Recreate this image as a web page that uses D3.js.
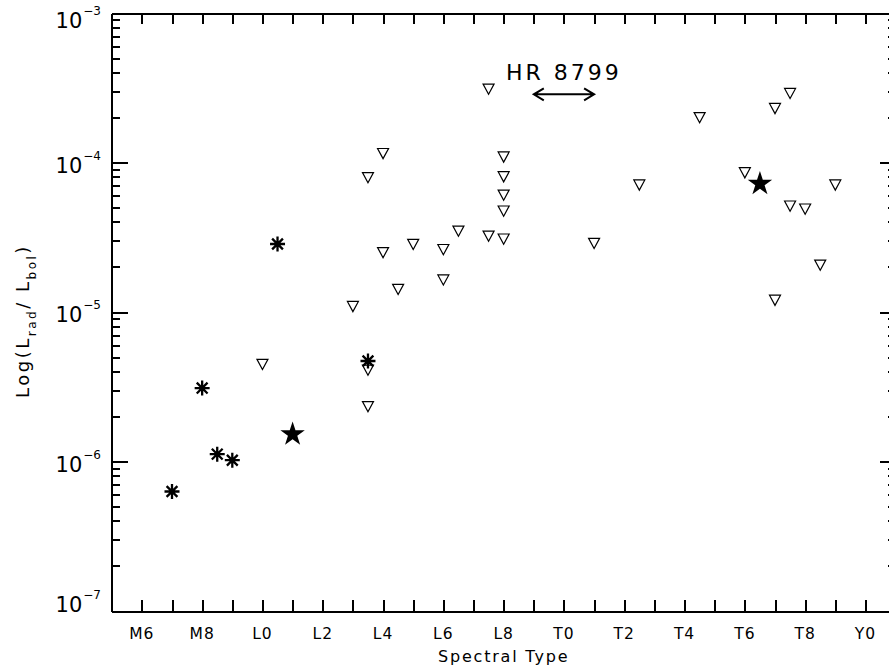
<!DOCTYPE html>
<html>
<head>
<meta charset="utf-8">
<script src="https://cdn.jsdelivr.net/npm/d3@7"></script>
<style>
  body { margin: 0; background: #fff; }
  svg text { font-family: "DejaVu Sans", sans-serif; fill: #000; }
  .axis path, .axis line { stroke: #000; stroke-width: 2px; shape-rendering: crispEdges; }
</style>
</head>
<body>
<div id="chart"></div>
<script>
// spectral type as a number: M0 = 0, L0 = 10, T0 = 20, Y0 = 30
const tickTypes = [6, 8, 10, 12, 14, 16, 18, 20, 22, 24, 26, 28, 30]
const tickNames = ['M6', 'M8', 'L0', 'L2', 'L4', 'L6', 'L8', 'T0', 'T2', 'T4', 'T6', 'T8', 'Y0']
const yDecades = [-7, -6, -5, -4, -3]

// upper limits (open triangles)
const limitTypes = [10, 17.5, 14, 13.5, 18, 18, 18, 18, 18, 17.5, 16.5, 15, 16, 14, 16,
    14.5, 13, 13.5, 13.5, 27.5, 27, 24.5, 26, 29, 22.5, 27.5, 28, 21, 28.5, 27]
const limitValues = [4.47e-6, 3.1e-4, 1.15e-4, 7.94e-5, 1.09e-4, 8.04e-5, 6.06e-5, 4.74e-5,
    3.08e-5, 3.22e-5, 3.48e-5, 2.84e-5, 2.62e-5, 2.5e-5, 1.64e-5, 1.42e-5, 1.09e-5, 4.09e-6,
    2.33e-6, 2.9e-4, 2.3e-4, 2.0e-4, 8.55e-5, 7.08e-5, 7.08e-5, 5.12e-5, 4.89e-5, 2.88e-5,
    2.06e-5, 1.2e-5]

// detections (asterisks)
const detTypes = [7, 8, 8.5, 9, 10.5, 13.5]
const detValues = [6.3e-7, 3.1e-6, 1.12e-6, 1.02e-6, 2.85e-5, 4.7e-6]

// filled stars
const starTypes = [11, 26.5]
const starValues = [1.52e-6, 7.2e-5]

// HR 8799 planets span
const hrRange = [19, 21]
const hrLevel = 2.86e-4
const hrLabel = 'HR 8799'

const WIDTH = 889
const HEIGHT = 671
const PLOT_LEFT = 111.7
const PLOT_RIGHT = 895.6
const PLOT_TOP = 13
const PLOT_BOTTOM = 611

const svg = d3.select('#chart')
    .append('svg')
    .attr('width', WIDTH)
    .attr('height', HEIGHT)

const x = d3.scaleLinear().domain([5, 31]).range([PLOT_LEFT, PLOT_RIGHT])
const y = d3.scaleLog().domain([1e-7, 1e-3]).range([PLOT_BOTTOM, PLOT_TOP])

// minor ticks 2..9 inside each decade
const minorTicks = []
yDecades.slice(0, -1).forEach(e => {
    d3.range(2, 10).forEach(m => minorTicks.push(m * Math.pow(10, e)))
})
const majorTicks = yDecades.map(e => Math.pow(10, e))
const xTicks = d3.range(6, 31)

function addAxis(axis, tx, ty) {
    svg.append('g')
        .attr('class', 'axis')
        .attr('transform', `translate(${tx},${ty})`)
        .call(axis)
        .call(g => g.selectAll('text').remove())
}

addAxis(d3.axisBottom(x).tickValues(xTicks).tickSize(-11).tickSizeOuter(0), 0, PLOT_BOTTOM)
addAxis(d3.axisTop(x).tickValues(xTicks).tickSize(-11).tickSizeOuter(0), 0, PLOT_TOP)
addAxis(d3.axisLeft(y).tickValues(majorTicks).tickSize(-16).tickSizeOuter(0), PLOT_LEFT, 0)
addAxis(d3.axisLeft(y).tickValues(minorTicks).tickSize(-8).tickSizeOuter(0), PLOT_LEFT, 0)
addAxis(d3.axisRight(y).tickValues(majorTicks).tickSize(-16).tickSizeOuter(0), PLOT_RIGHT, 0)
addAxis(d3.axisRight(y).tickValues(minorTicks).tickSize(-8).tickSizeOuter(0), PLOT_RIGHT, 0)

// x tick labels
svg.append('g')
    .selectAll('text')
    .data(tickTypes)
    .enter()
    .append('text')
    .attr('x', d => x(d))
    .attr('y', 638.5)
    .attr('text-anchor', 'middle')
    .style('font-size', '15.5px')
    .style('letter-spacing', '1px')
    .text((d, i) => tickNames[i])

// y tick labels, 10 with superscript exponent
const ylabels = svg.append('g')
    .selectAll('text')
    .data(yDecades)
    .enter()
    .append('text')
    .attr('x', 101)
    .attr('y', d => Math.min(Math.max(y(Math.pow(10, d)) + 10, 28), 612))
    .attr('text-anchor', 'end')
ylabels.append('tspan').style('font-size', '21px').text('10')
ylabels.append('tspan')
    .attr('dy', -13)
    .attr('dx', 1)
    .style('font-size', '12px')
    .text(d => '\u2212' + Math.abs(d))

svg.append('text')
    .attr('x', (PLOT_LEFT + PLOT_RIGHT) / 2)
    .attr('y', 661.5)
    .attr('text-anchor', 'middle')
    .style('font-size', '16px')
    .style('letter-spacing', '1.8px')
    .text('Spectral Type')

const ytitle = svg.append('text')
    .attr('transform', `translate(29,${(PLOT_TOP + PLOT_BOTTOM) / 2 + 9}) rotate(-90)`)
    .attr('text-anchor', 'middle')
    .style('font-size', '18px')
    .style('letter-spacing', '2.5px')
ytitle.append('tspan').text('Log(')
ytitle.append('tspan').text('L')
ytitle.append('tspan').attr('dy', 7).style('font-size', '12px').text('rad')
ytitle.append('tspan').attr('dy', -7).text('/ L')
ytitle.append('tspan').attr('dy', 7).style('font-size', '12px').text('bol')
ytitle.append('tspan').attr('dy', -7).text(')')

// open down-pointing triangle, centred on its box
const downTriangle = {
    draw(ctx, size) {
        const w = Math.sqrt(size) / 2
        ctx.moveTo(-w, -w * 0.9)
        ctx.lineTo(w, -w * 0.9)
        ctx.lineTo(0, w * 0.95)
        ctx.closePath()
    }
}

// asterisk as + and x
const asterisk = {
    draw(ctx, size) {
        const r = Math.sqrt(size) / 2
        const d = r * 0.72
        ctx.moveTo(0, -r); ctx.lineTo(0, r)
        ctx.moveTo(-r, 0); ctx.lineTo(r, 0)
        ctx.moveTo(-d, -d); ctx.lineTo(d, d)
        ctx.moveTo(-d, d); ctx.lineTo(d, -d)
    }
}

svg.append('g')
    .selectAll('path')
    .data(limitTypes)
    .enter()
    .append('path')
    .attr('transform', (d, i) => `translate(${x(d)},${y(limitValues[i])})`)
    .attr('d', d3.symbol(downTriangle, 121))
    .attr('fill', 'none')
    .attr('stroke', '#000')
    .attr('stroke-width', 1.2)

svg.append('g')
    .selectAll('path')
    .data(detTypes)
    .enter()
    .append('path')
    .attr('transform', (d, i) => `translate(${x(d)},${y(detValues[i])})`)
    .attr('d', d3.symbol(asterisk, 225))
    .attr('fill', 'none')
    .attr('stroke', '#000')
    .attr('stroke-width', 2.3)

svg.append('g')
    .selectAll('path')
    .data(starTypes)
    .enter()
    .append('path')
    .attr('transform', (d, i) => `translate(${x(d)},${y(starValues[i])})`)
    .attr('d', d3.symbol(d3.symbolStar, 185))
    .attr('fill', '#000')

// HR 8799 double arrow
const ay = y(hrLevel)
const ax0 = x(hrRange[0]), ax1 = x(hrRange[1])
svg.append('path')
    .attr('d', `M${ax0},${ay}H${ax1}M${ax0 + 10},${ay - 6}L${ax0},${ay}L${ax0 + 10},${ay + 6}` +
        `M${ax1 - 10},${ay - 6}L${ax1},${ay}L${ax1 - 10},${ay + 6}`)
    .attr('fill', 'none')
    .attr('stroke', '#000')
    .attr('stroke-width', 2)

svg.append('text')
    .attr('x', x(d3.mean(hrRange)))
    .attr('y', ay - 14)
    .attr('text-anchor', 'middle')
    .style('font-size', '22px')
    .style('letter-spacing', '3px')
    .text(hrLabel)
</script>
</body>
</html>
